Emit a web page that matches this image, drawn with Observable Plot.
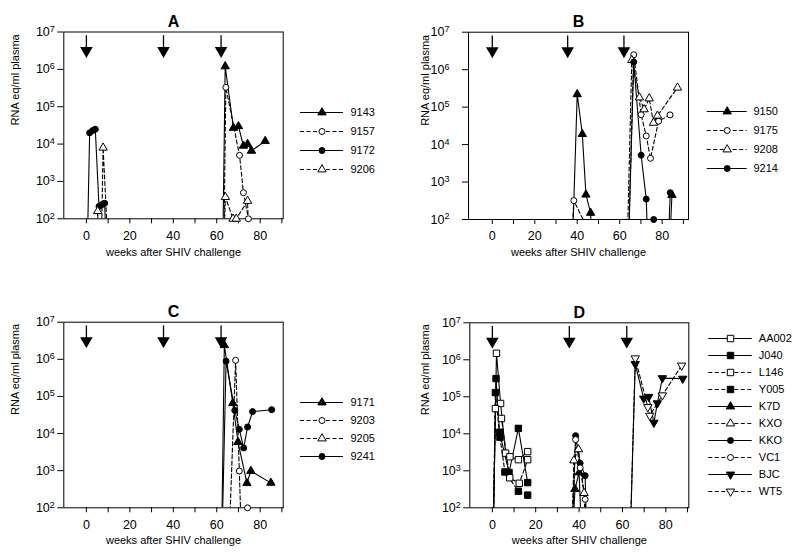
<!DOCTYPE html>
<html><head><meta charset="utf-8">
<script src="https://cdn.jsdelivr.net/npm/d3@7"></script>
<script src="https://cdn.jsdelivr.net/npm/@observablehq/plot@0.6"></script>
<style>
body{margin:0;background:#fff}
#fig{position:relative;width:800px;height:555px;background:#fff;overflow:hidden}
#fig svg{position:absolute;overflow:visible}
</style></head><body><div id="fig"></div>
<script>
// ---------- data ----------
const BELOW = 1; // below detection limit (plotted off the bottom of the axis)
const boostWeeks = [0, 35.5, 62];
const yTicks = [1e2, 1e3, 1e4, 1e5, 1e6, 1e7];
const xTicks = [0, 10, 20, 30, 40, 50, 60, 70, 80, 90];
const xLabel = "weeks after SHIV challenge";
const yLabel = "RNA eq/ml plasma";
const titles = ["A", "B", "C", "D"];

// Panel A  [week, RNA eq/ml]
const A_9143 = [[62.5,BELOW],[63.9,1.2e6],[67.7,2.7e4],[70,3e4],[72.3,9e3],[74.2,1e4],[76,6.6e3],[82.3,1.2e4]];
const A_9157 = [[63,BELOW],[64.2,3.3e5],[70.5,5e3],[72.3,500],[74.6,100]];
const A_9172 = [[0,BELOW],[1.5,2e4],[2.9,2.3e4],[4.1,2.5e4],[5.8,215],[7.2,240],[8.4,260],[10,BELOW]];
const A_9206 = [[4,BELOW],[5.2,160],[6.5,BELOW],[7.7,8e3],[11,BELOW],[62.5,BELOW],[64,380],[67.5,100],[69,100],[74.2,300],[75.5,BELOW]];
const namesA = ["9143","9157","9172","9206"];

// Panel B
const B_9150 = [[37,BELOW],[40,2.2e5],[42.4,1.9e4],[44.1,460],[46.3,150],[48,BELOW],[82.5,BELOW],[84.6,450]];
const B_9175 = [[36,BELOW],[38.4,320],[60,BELOW],[63.5,BELOW],[66.6,2.5e6],[70.1,6.3e4],[72.5,1.7e4],[74.5,4.3e3],[78.3,4.2e4],[83.7,6.2e4]];
const B_9208 = [[63,BELOW],[65.7,1.8e6],[69.3,1.8e5],[71.5,8.7e4],[73.9,1.7e5],[75.9,3.8e4],[77.8,5.9e4],[87.2,3.3e5]];
const B_9214 = [[63.5,BELOW],[66.6,1.6e6],[70.1,5.2e3],[72.5,350],[74,BELOW],[76,100],[82,BELOW],[83.8,520]];
const namesB = ["9150","9175","9208","9214"];

// Panel C
const C_9171 = [[62,BELOW],[63.5,2.4e6],[67.4,6.6e4],[69.8,5.9e3],[73.9,460],[75.7,980],[84.9,470]];
const C_9203 = [[65,BELOW],[68.7,9.4e5],[70.4,980],[72,BELOW],[74.2,100]];
const C_9205 = [];
const C_9241 = [[62,BELOW],[64.3,8.9e5],[68.3,4.2e4],[70.4,1.3e4],[72.4,4.1e3],[74.2,1.5e4],[76.5,3.9e4],[85.3,4.4e4]];
const namesC = ["9171","9203","9205","9241"];

// Panel D
const D_AA002 = [[0,BELOW],[1.9,1.5e6],[3.8,6.6e4],[6.1,3e3],[8.1,2.4e3],[12,2e3],[16.3,3.3e3]];
const D_J040  = [[0,BELOW],[1.7,3.1e5],[3.3,1.1e4],[7.7,900],[12,1.4e4],[16.3,480]];
const D_L146  = [[0,BELOW],[1.4,4.8e4],[4.2,2.6e4],[8,650],[12.4,460],[16.3,2e3]];
const D_Y005  = [[0,BELOW],[1.4,1.3e5],[3.5,8e3],[5.8,930],[12,280],[16.3,220]];
const D_K7D   = [[36,BELOW],[38.1,320],[40,900],[42,BELOW]];
const D_KXO   = [[36,BELOW],[37.6,1.9e3],[39.7,3.8e3],[42.3,250],[44,BELOW]];
const D_KKO   = [[36,BELOW],[38.4,8.9e3],[40.5,1.6e3],[42.8,740],[44,BELOW]];
const D_VC1   = [[36,BELOW],[38.4,7e3],[40.5,1.2e3],[42.8,170],[44,BELOW]];
const D_BJC   = [[63,BELOW],[65.9,7.7e5],[69.8,9e4],[72.1,1e5],[74.5,2e4],[76.1,6.7e4],[78.4,3.2e5],[87.8,3.1e5]];
const D_WT5   = [[63,BELOW],[65.9,1.1e6],[71.7,5.3e4],[72.6,3.1e4],[78.4,1.1e5],[87.3,7e5]];
const namesD = ["AA002","J040","L146","Y005","K7D","KXO","KKO","VC1","BJC","WT5"];

// ---------- styles ----------
const styles = {
  "9143":{sym:"triangle",filled:true,dashed:false}, "9157":{sym:"circle",filled:false,dashed:true},
  "9172":{sym:"circle",filled:true,dashed:false},   "9206":{sym:"triangle",filled:false,dashed:true},
  "9150":{sym:"triangle",filled:true,dashed:false}, "9175":{sym:"circle",filled:false,dashed:true},
  "9208":{sym:"triangle",filled:false,dashed:true}, "9214":{sym:"circle",filled:true,dashed:false},
  "9171":{sym:"triangle",filled:true,dashed:false}, "9203":{sym:"circle",filled:false,dashed:true},
  "9205":{sym:"triangle",filled:false,dashed:true}, "9241":{sym:"circle",filled:true,dashed:false},
  "AA002":{sym:"square",filled:false,dashed:false}, "J040":{sym:"square",filled:true,dashed:false},
  "L146":{sym:"square",filled:false,dashed:true},   "Y005":{sym:"square",filled:true,dashed:true},
  "K7D":{sym:"triangle",filled:true,dashed:false},  "KXO":{sym:"triangle",filled:false,dashed:true},
  "KKO":{sym:"circle",filled:true,dashed:false},    "VC1":{sym:"circle",filled:false,dashed:true},
  "BJC":{sym:"triangle",filled:true,dashed:false,down:true}, "WT5":{sym:"triangle",filled:false,dashed:true,down:true}
};
const SYM_R = {circle:3.0, triangle:3.1, square:3.6};
const DASH = "4,2.5";
const FONT = "'Liberation Sans', Arial, Helvetica, sans-serif";
const arrowTop = Math.pow(10, 6.9), arrowHead = Math.pow(10, 6.5);

const fig = document.getElementById("fig");

function fmtY(d){ return "10^" + Math.round(Math.log10(d)); }

function panel(cfg){
  const marks = [
    Plot.frame({stroke:"black", strokeWidth:1}),
    Plot.axisY(yTicks, {tickSize:6, tickPadding:cfg.tickPadding, tickFormat:fmtY, label:null, fontSize:12.5}),
    Plot.axisX(xTicks, {tickSize:5, tickPadding:7, tickFormat:d => d % 20 === 0 ? String(d) : "", label:null, fontSize:12.5}),
    Plot.ruleX(boostWeeks, {x:d => d, y1:arrowTop, y2:arrowHead, stroke:"black", strokeWidth:1.3}),
    Plot.dot(boostWeeks, {x:d => d, y:arrowHead, symbol:"triangle", rotate:180, r:3.7, fill:"black", stroke:"black"})
  ];
  for (const [name, pts] of cfg.series) {
    const s = styles[name];
    marks.push(Plot.line(pts, {x:d => d[0], y:d => d[1], stroke:"black", strokeWidth:1.1,
      strokeDasharray: s.dashed ? DASH : undefined, clip:true}));
  }
  for (const [name, pts] of cfg.series) {
    const s = styles[name];
    marks.push(Plot.dot(pts.filter(d => d[1] >= 100), {x:d => d[0], y:d => d[1], symbol:s.sym,
      rotate: s.down ? 180 : 0, r:SYM_R[s.sym], fill: s.filled ? "black" : "white", stroke:"black", strokeWidth:1}));
  }
  marks.push(Plot.text([cfg.title], {frameAnchor:"top", dy:-16.5, text:d => d, fontSize:16, fontWeight:"bold"}));
  marks.push(Plot.text([xLabel], {frameAnchor:"bottom", dy:cfg.xLabelDy, text:d => d, fontSize:11}));
  marks.push(Plot.text([yLabel], {frameAnchor:"left", dx:cfg.yLabelDx, rotate:-90, text:d => d, fontSize:11}));
  const svg = Plot.plot({
    width:400, height:270,
    marginLeft:cfg.ml, marginRight:cfg.mr, marginTop:cfg.mt, marginBottom:cfg.mb,
    x:{domain:cfg.xDomain},
    y:{type:"log", domain:[100, 1e7]},
    style:{fontFamily:FONT, background:"transparent", color:"black"},
    marks
  });
  d3.select(svg).selectAll('g[aria-label="y-axis tick label"] text').each(function(){
    const m = this.textContent.match(/^10\^(\d+)$/);
    if (m) {
      const sel = d3.select(this);
      sel.text("10");
      sel.append("tspan").attr("dy", "-0.45em").attr("font-size", "0.72em").text(m[1]);
    }
  });
  svg.style.left = cfg.left + "px";
  svg.style.top = cfg.top + "px";
  fig.appendChild(svg);
}

function legend(cfg){
  const names = cfg.names;
  const marks = [];
  for (const name of names) {
    const s = styles[name];
    marks.push(Plot.ruleY([name], {y:d => d, x1:0, x2:1, stroke:"black", strokeWidth:1.1,
      strokeDasharray: s.dashed ? DASH : undefined}));
    marks.push(Plot.dot([name], {x:0.5, y:d => d, symbol:s.sym, rotate: s.down ? 180 : 0,
      r:SYM_R[s.sym], fill: s.filled ? "black" : "white", stroke:"black", strokeWidth:1}));
  }
  marks.push(Plot.text(names, {x:1, y:d => d, text:d => d, textAnchor:"start", dx:cfg.dx, fontSize:11}));
  const svg = Plot.plot({
    width:cfg.width, height:cfg.height, margin:0,
    x:{domain:[0,1], range:[cfg.x0, cfg.x1], axis:null},
    y:{type:"point", domain:names, range:[cfg.y0, cfg.y1], axis:null},
    style:{fontFamily:FONT, background:"transparent", color:"black"},
    marks
  });
  svg.style.left = cfg.left + "px";
  svg.style.top = cfg.top + "px";
  fig.appendChild(svg);
}

panel({title:titles[0], left:0, top:0, ml:63.3, mr:117.3, mt:31.5, mb:51.7, xDomain:[-10.4, 90.6],
  tickPadding:3, yLabelDx:-48, xLabelDy:36.7,
  series:[["9143",A_9143],["9157",A_9157],["9172",A_9172],["9206",A_9206]]});
panel({title:titles[1], left:400, top:0, ml:68, mr:112, mt:31.7, mb:51, xDomain:[-11.2, 92.4],
  tickPadding:13, yLabelDx:-43, xLabelDy:36,
  series:[["9150",B_9150],["9175",B_9175],["9208",B_9208],["9214",B_9214]]});
panel({title:titles[2], left:0, top:290, ml:63.3, mr:117.3, mt:31.7, mb:52.7, xDomain:[-10.4, 90.6],
  tickPadding:3, yLabelDx:-48, xLabelDy:35.7,
  series:[["9171",C_9171],["9203",C_9203],["9205",C_9205],["9241",C_9241]]});
panel({title:titles[3], left:400, top:290, ml:69.3, mr:111.7, mt:32.3, mb:52.7, xDomain:[-10.4, 90.6],
  tickPadding:3, yLabelDx:-44, xLabelDy:35.7,
  series:[["AA002",D_AA002],["J040",D_J040],["L146",D_L146],["Y005",D_Y005],["K7D",D_K7D],
          ["KXO",D_KXO],["KKO",D_KKO],["VC1",D_VC1],["BJC",D_BJC],["WT5",D_WT5]]});

legend({names:namesA, left:290, top:80, width:100, height:120, x0:10, x1:53, y0:22.3, y1:98.3, dx:7});
legend({names:namesB, left:696, top:80, width:100, height:120, x0:10.7, x1:50.7, y0:21, y1:98.3, dx:6.3});
legend({names:namesC, left:290, top:370, width:100, height:120, x0:10, x1:53, y0:21, y1:96.7, dx:7});
legend({names:namesD, left:696, top:310, width:104, height:210, x0:12.3, x1:55.7, y0:19.3, y1:189.3, dx:6.6});
</script></body></html>
